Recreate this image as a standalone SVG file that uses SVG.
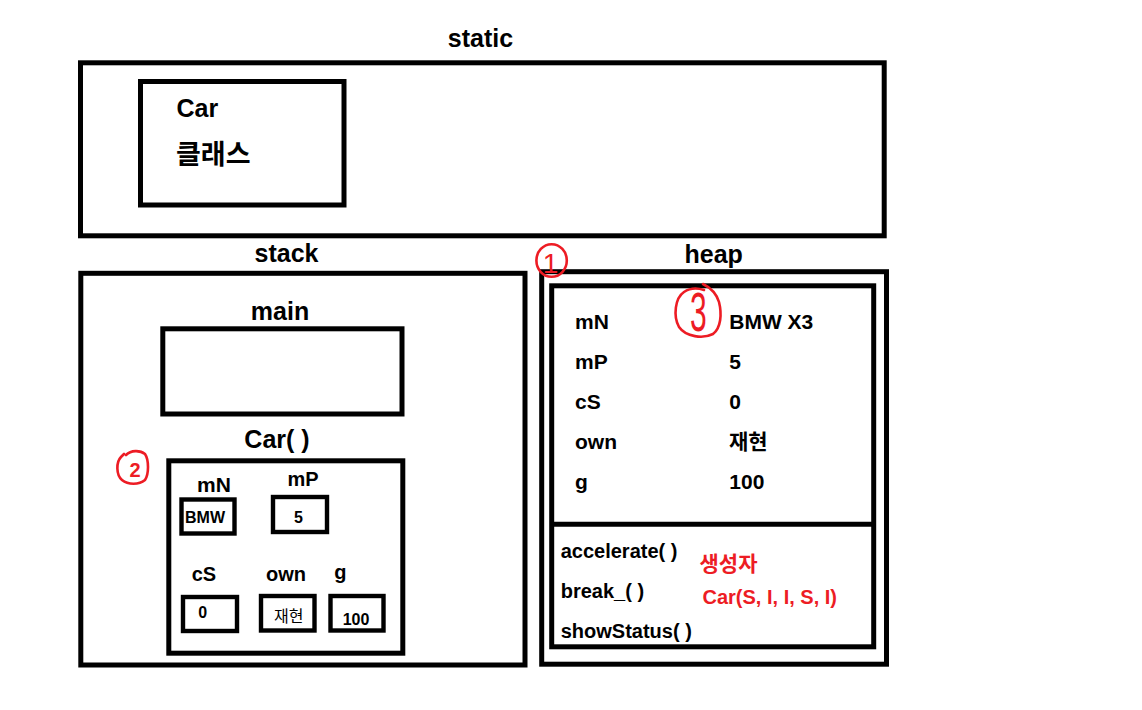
<svg xmlns="http://www.w3.org/2000/svg" width="1142" height="710" viewBox="0 0 1142 710">
<style>
.box{fill:none;stroke:#000;stroke-width:5}
.sb{fill:none;stroke:#000;stroke-width:4.4}
.t{font-family:"Liberation Sans","Noto Sans CJK KR",sans-serif;font-weight:bold;fill:#000}
.k{font-family:"Noto Sans CJK KR","Liberation Sans",sans-serif;fill:#000}
.r{fill:#ED1C24}
.rc{fill:none;stroke:#ED1C24;stroke-width:2.6;stroke-linecap:round;stroke-linejoin:round}
.mid{text-anchor:middle}
</style>
<rect width="1142" height="710" fill="#fff"/>
<g id="static">
<rect class="box" x="80.5" y="62.8" width="803.7" height="173"/>
<text class="t mid" x="480.5" y="47" font-size="25">static</text>
</g>
<g id="car-class">
<rect class="box" x="140.5" y="81.5" width="203.5" height="123.5"/>
<text class="t" x="176.5" y="116.5" font-size="25">Car</text>
<text class="k" x="176" y="163.5" font-size="27" font-weight="bold">클래스</text>
</g>
<g id="stack">
<rect class="box" x="80.8" y="273.3" width="444.2" height="391.7"/>
<text class="t mid" x="286.5" y="261.5" font-size="25">stack</text>
</g>
<g id="main">
<rect class="box" x="162.8" y="328.8" width="239.2" height="85.2"/>
<text class="t mid" x="280" y="320" font-size="25">main</text>
</g>
<g id="car-frame">
<rect class="box" x="168.8" y="460.8" width="234" height="192.4"/>
<text class="t mid" x="277" y="448" font-size="25">Car( )</text>
<path class="rc" d="M126 455 C131 450 140 450 145 454 C149 460 149 474 145 480 C139 485 128 485 122 480 C116 475 116 462 121 457 L124 454"/>
<text class="t r mid" x="135" y="476.7" font-size="20">2</text>
<text class="t mid" x="214" y="492" font-size="21">mN</text>
<rect class="sb" x="181.5" y="499.5" width="53" height="34"/>
<text class="t" x="185" y="523" font-size="16">BMW</text>
<text class="t mid" x="303" y="486" font-size="20">mP</text>
<rect class="sb" x="273" y="497" width="54" height="35"/>
<text class="t" x="294" y="522.7" font-size="16">5</text>
<text class="t" x="191.7" y="580.5" font-size="20">cS</text>
<text class="t" x="266" y="580.5" font-size="20">own</text>
<text class="t" x="334.3" y="578.7" font-size="20">g</text>
<rect class="sb" x="183" y="597" width="54" height="34"/>
<text class="t" x="198.3" y="618.3" font-size="16">0</text>
<rect class="sb" x="261" y="596" width="53.5" height="34.5"/>
<text class="k" x="274" y="622" font-size="16">재현</text>
<rect class="sb" x="330.5" y="596" width="53" height="34.5"/>
<text class="t" x="342.7" y="625" font-size="16">100</text>
</g>
<g id="heap">
<rect class="box" x="541.7" y="271.7" width="344.8" height="392.5"/>
<text class="t mid" x="713.7" y="263" font-size="25">heap</text>
<ellipse class="rc" cx="551.6" cy="260.5" rx="15.2" ry="16.3"/>
<text class="r mid" x="550.5" y="273.3" font-size="28" font-family="Liberation Sans,sans-serif">1</text>
</g>
<g id="car-object">
<rect class="box" x="551.7" y="285.8" width="322" height="361"/>
<line x1="551.7" y1="524.2" x2="873.7" y2="524.2" stroke="#000" stroke-width="5"/>
<path class="rc" d="M703 284 C709 287 716 292 719 302 C722 314 721 328 713 334 C703 339 686 337 679 327 C673 316 675 298 684 292 C690 288 698 288 704 290"/>
<text class="r mid" font-size="40" font-family="Liberation Sans,sans-serif" transform="translate(698.3,330.7) scale(0.75,1.4)">3</text>
<text class="t" x="575" y="329.3" font-size="21">mN</text>
<text class="t" x="729.3" y="329.3" font-size="21">BMW X3</text>
<text class="t" x="575" y="369.3" font-size="21">mP</text>
<text class="t" x="729.3" y="369.3" font-size="21">5</text>
<text class="t" x="575" y="408.5" font-size="21">cS</text>
<text class="t" x="729.3" y="408.5" font-size="21">0</text>
<text class="t" x="575" y="449.3" font-size="21">own</text>
<text class="k" x="729" y="449" font-size="21" font-weight="bold">재현</text>
<text class="t" x="575" y="488.5" font-size="21">g</text>
<text class="t" x="729.3" y="489.3" font-size="21">100</text>
<text class="t" x="560.7" y="558.3" font-size="20">accelerate( )</text>
<text class="t" x="560.7" y="598.3" font-size="20">break_( )</text>
<text class="t" x="560.7" y="638.3" font-size="20">showStatus( )</text>
<text class="k r" x="699.5" y="570.5" font-size="21" font-weight="bold">생성자</text>
<text class="t r" x="702.5" y="604.3" font-size="20">Car(S, I, I, S, I)</text>
</g>
<g id="connectors"></g>
</svg>
